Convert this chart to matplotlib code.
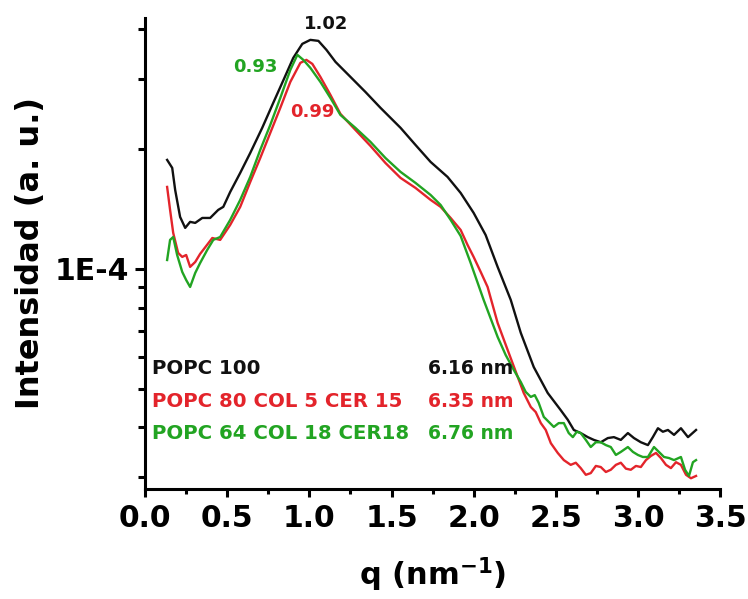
import matplotlib
matplotlib.use("Agg")
import matplotlib.pyplot as plt
from matplotlib.ticker import FixedLocator, FixedFormatter, MultipleLocator
import numpy as np

plt.rcParams['font.family'] = ['DejaVu Sans']
plt.rcParams['font.weight'] = 'bold'
plt.rcParams['mathtext.fontset'] = 'dejavusans'

# ---- data (intensity in units of 1e-4 a.u.) ----
q_popc100 = [0.134, 0.165, 0.183, 0.213, 0.244, 0.274, 0.305, 0.348, 0.396, 0.445, 0.476, 0.518,
             0.579, 0.640, 0.713, 0.780, 0.848, 0.902, 0.957, 1.006, 1.055, 1.104, 1.159, 1.250,
             1.341, 1.433, 1.555, 1.646, 1.738, 1.841, 1.921, 2.000, 2.073, 2.146, 2.226, 2.287,
             2.366, 2.451, 2.530, 2.573, 2.610, 2.652, 2.695, 2.732, 2.774, 2.817, 2.854, 2.896,
             2.939, 2.976, 3.018, 3.061, 3.091, 3.122, 3.152, 3.183, 3.220, 3.262, 3.305, 3.354]
i_popc100 = [1.879, 1.794, 1.579, 1.351, 1.268, 1.313, 1.305, 1.343, 1.343, 1.407, 1.432, 1.561,
             1.743, 1.956, 2.262, 2.613, 3.019, 3.390, 3.676, 3.762, 3.740, 3.550, 3.312, 3.037,
             2.784, 2.539, 2.262, 2.049, 1.857, 1.703, 1.552, 1.383, 1.217, 1.012, 0.836, 0.691,
             0.567, 0.488, 0.442, 0.418, 0.394, 0.387, 0.378, 0.372, 0.367, 0.376, 0.378, 0.372,
             0.387, 0.376, 0.367, 0.361, 0.378, 0.398, 0.390, 0.394, 0.383, 0.398, 0.378, 0.394]

q_popc80 = [0.134, 0.152, 0.171, 0.201, 0.226, 0.250, 0.274, 0.305, 0.335, 0.372, 0.409, 0.457,
            0.518, 0.579, 0.640, 0.701, 0.762, 0.823, 0.884, 0.945, 0.982, 1.018, 1.067, 1.128,
            1.189, 1.280, 1.372, 1.463, 1.555, 1.646, 1.738, 1.799, 1.860, 1.921, 1.963, 2.000,
            2.043, 2.085, 2.146, 2.207, 2.268, 2.305, 2.348, 2.378, 2.409, 2.439, 2.470, 2.512,
            2.549, 2.591, 2.622, 2.652, 2.683, 2.713, 2.744, 2.774, 2.805, 2.835, 2.866, 2.896,
            2.927, 2.957, 2.988, 3.018, 3.049, 3.079, 3.110, 3.140, 3.171, 3.201, 3.232, 3.262,
            3.293, 3.323, 3.354]
i_popc80 = [1.607, 1.407, 1.232, 1.097, 1.072, 1.084, 1.012, 1.041, 1.091, 1.142, 1.196, 1.183,
            1.290, 1.432, 1.654, 1.900, 2.197, 2.539, 2.950, 3.293, 3.351, 3.274, 3.037, 2.737,
            2.452, 2.235, 2.037, 1.846, 1.693, 1.598, 1.491, 1.432, 1.343, 1.253, 1.149, 1.072,
            0.983, 0.901, 0.732, 0.626, 0.536, 0.488, 0.450, 0.437, 0.410, 0.394, 0.365, 0.345,
            0.331, 0.322, 0.326, 0.316, 0.304, 0.307, 0.320, 0.318, 0.309, 0.313, 0.322, 0.326,
            0.315, 0.313, 0.320, 0.318, 0.331, 0.339, 0.345, 0.335, 0.322, 0.316, 0.327, 0.322,
            0.304, 0.298, 0.302]

q_popc64 = [0.134, 0.152, 0.171, 0.195, 0.226, 0.250, 0.274, 0.305, 0.335, 0.378, 0.415, 0.457,
            0.518, 0.579, 0.640, 0.701, 0.762, 0.823, 0.884, 0.927, 0.963, 1.006, 1.067, 1.128,
            1.189, 1.280, 1.372, 1.463, 1.555, 1.646, 1.738, 1.799, 1.860, 1.921, 1.982, 2.061,
            2.146, 2.195, 2.244, 2.287, 2.317, 2.348, 2.372, 2.396, 2.427, 2.457, 2.488, 2.518,
            2.549, 2.579, 2.604, 2.628, 2.652, 2.683, 2.713, 2.744, 2.774, 2.805, 2.835, 2.866,
            2.896, 2.939, 2.970, 3.000, 3.030, 3.061, 3.098, 3.128, 3.159, 3.189, 3.220, 3.262,
            3.287, 3.311, 3.335, 3.354]
i_popc64 = [1.053, 1.183, 1.203, 1.084, 0.983, 0.938, 0.901, 0.977, 1.035, 1.116, 1.183, 1.203,
            1.328, 1.491, 1.703, 1.991, 2.300, 2.689, 3.162, 3.450, 3.351, 3.199, 2.950, 2.689,
            2.437, 2.262, 2.085, 1.900, 1.753, 1.645, 1.534, 1.448, 1.328, 1.210, 1.035, 0.836,
            0.675, 0.608, 0.558, 0.520, 0.491, 0.477, 0.482, 0.461, 0.425, 0.413, 0.401, 0.410,
            0.410, 0.387, 0.378, 0.390, 0.387, 0.372, 0.357, 0.367, 0.367, 0.361, 0.357, 0.341,
            0.347, 0.357, 0.347, 0.341, 0.337, 0.337, 0.357, 0.347, 0.337, 0.335, 0.331, 0.337,
            0.313, 0.302, 0.327, 0.331]

series_names = ['POPC 100', 'POPC 80 COL 5 CER 15', 'POPC 64 COL 18 CER18']
series_d = ['6.16 nm', '6.35 nm', '6.76 nm']
peak_labels = ['1.02', '0.99', '0.93']
colors = ['#111111', '#e3242b', '#22a422']

x_ticks = [0.0, 0.5, 1.0, 1.5, 2.0, 2.5, 3.0, 3.5]
x_ticklabels = ['0.0', '0.5', '1.0', '1.5', '2.0', '2.5', '3.0', '3.5']

SCALE = 1e-4

fig = plt.figure(figsize=(7.48, 5.99), dpi=100)
ax = fig.add_axes([0.194, 0.1836, 0.7686, 0.7864])

for q, i, c in zip([q_popc100, q_popc80, q_popc64],
                   [i_popc100, i_popc80, i_popc64], colors):
    ax.plot(q, np.array(i) * SCALE, color=c, lw=1.7)

ax.set_yscale('log')
ax.set_xlim(0, 3.5)
ax.set_ylim(2.80e-5, 4.27e-4)

ax.spines['top'].set_visible(False)
ax.spines['right'].set_visible(False)
for s in ['left', 'bottom']:
    ax.spines[s].set_linewidth(2.2)

ax.xaxis.set_major_locator(FixedLocator(x_ticks))
ax.xaxis.set_major_formatter(FixedFormatter(x_ticklabels))
ax.xaxis.set_minor_locator(MultipleLocator(0.25))
ax.yaxis.set_major_locator(FixedLocator([1e-4]))
ax.yaxis.set_major_formatter(FixedFormatter(['1E-4']))
ax.yaxis.set_minor_locator(FixedLocator([3e-5, 4e-5, 5e-5, 6e-5, 7e-5, 8e-5, 9e-5, 2e-4, 3e-4, 4e-4]))
ax.yaxis.set_minor_formatter(FixedFormatter([]))

ax.tick_params(axis='x', which='major', direction='out', length=6, width=2.2,
               labelsize=21.5, pad=5)
ax.tick_params(axis='x', which='minor', direction='out', length=3.6, width=2.2)
ax.tick_params(axis='y', which='major', direction='out', length=7.5, width=2.2,
               labelsize=21.5, pad=4)
ax.tick_params(axis='y', which='minor', direction='out', length=5, width=2.2)
for lab in ax.get_xticklabels() + ax.get_yticklabels():
    lab.set_fontweight('bold')

ax.set_xlabel('q (nm$^{\\mathbf{-1}}$)', fontsize=22, fontweight='bold', labelpad=16)
ax.set_ylabel('Intensidad (a. u.)', fontsize=23, fontweight='bold')
ax.yaxis.set_label_coords(-0.172, 0.5)

# peak annotations
ax.text(1.10, 4.13e-4, peak_labels[0], color=colors[0], fontsize=13, fontweight='bold',
        ha='center', va='center')
ax.text(1.02, 2.48e-4, peak_labels[1], color=colors[1], fontsize=13, fontweight='bold',
        ha='center', va='center')
ax.text(0.67, 3.22e-4, peak_labels[2], color=colors[2], fontsize=13, fontweight='bold',
        ha='center', va='center')

# legend-like text block
ys = [0.255, 0.185, 0.118]
for name, d, c, y in zip(series_names, series_d, colors, ys):
    ax.text(0.012, y, name, color=c, fontsize=14.2, fontweight='bold',
            transform=ax.transAxes, ha='left', va='center')
    ax.text(0.492, y, d, color=c, fontsize=13.5, fontweight='bold',
            transform=ax.transAxes, ha='left', va='center')

fig.savefig('out.png', dpi=100)
